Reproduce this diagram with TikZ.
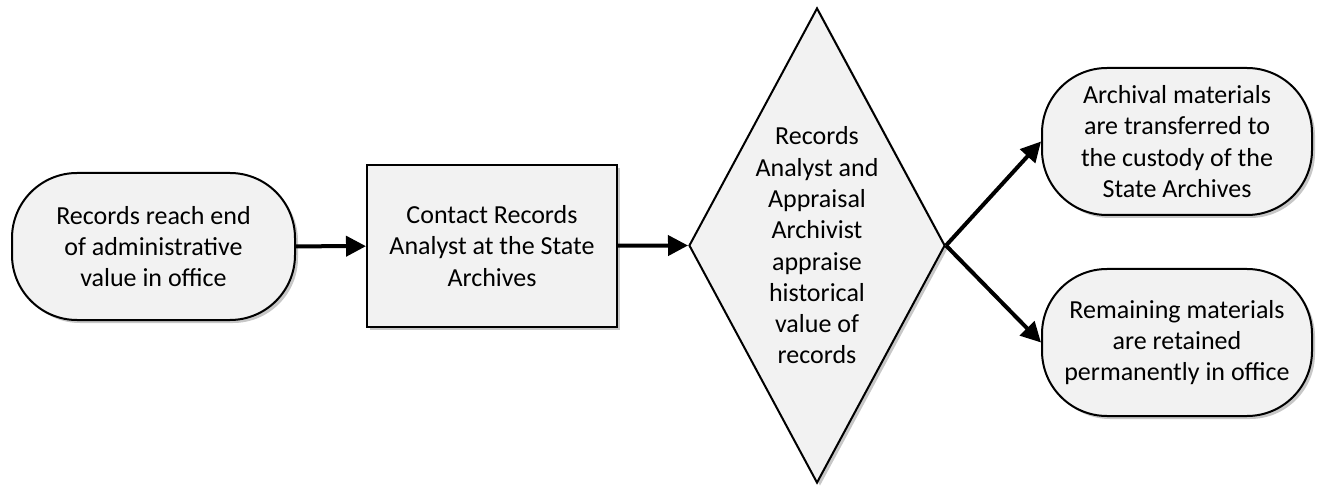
\documentclass[tikz,border=0pt]{standalone}
\usepackage{fontspec}
\setmainfont{Carlito}
\usetikzlibrary{shapes.geometric,arrows.meta,shadows}
\definecolor{boxfill}{RGB}{242,242,242}
\begin{document}
\begin{tikzpicture}[x=1pt,y=-1pt,
  base/.style={draw=black, line width=2pt, fill=boxfill, align=center,
    font=\fontsize{26}{31.3}\selectfont,
    drop shadow={shadow xshift=3pt, shadow yshift=-3pt, fill=black, opacity=0.22}},
  term/.style={base, rectangle, rounded corners=65pt, minimum height=147pt, inner sep=0pt},
  procbox/.style={base, rectangle, minimum width=250pt, minimum height=162pt, inner sep=0pt},
  decision/.style={base, diamond, aspect=0.54, inner sep=0pt, minimum width=256pt, minimum height=475pt},
  flow/.style={line width=4pt, -{Triangle[length=20pt,width=20pt]}}
]
\useasboundingbox (0,0) rectangle (1317,486);
\node[term, minimum width=283pt] (start) at (153.5,246.5) {Records reach end\\of administrative\\value in office};
\node[procbox] (contact) at (492,246) {Contact Records\\Analyst at the State\\Archives};
\node[decision] (appraise) at (817,245.5) {Records\\Analyst and\\Appraisal\\Archivist\\appraise\\historical\\value of\\records};
\node[term, minimum width=270pt] (transfer) at (1177,141.5) {Archival materials\\are transferred to\\the custody of the\\State Archives};
\node[term, minimum width=270pt] (retain) at (1177,342.5) {Remaining materials\\are retained\\permanently in office};
\draw[flow] (start) -- (contact);
\draw[flow] (contact) -- (appraise.west);
\draw[flow] (appraise.east) -- (transfer.west);
\draw[flow] (appraise.east) -- (retain.west);
\end{tikzpicture}
\end{document}
